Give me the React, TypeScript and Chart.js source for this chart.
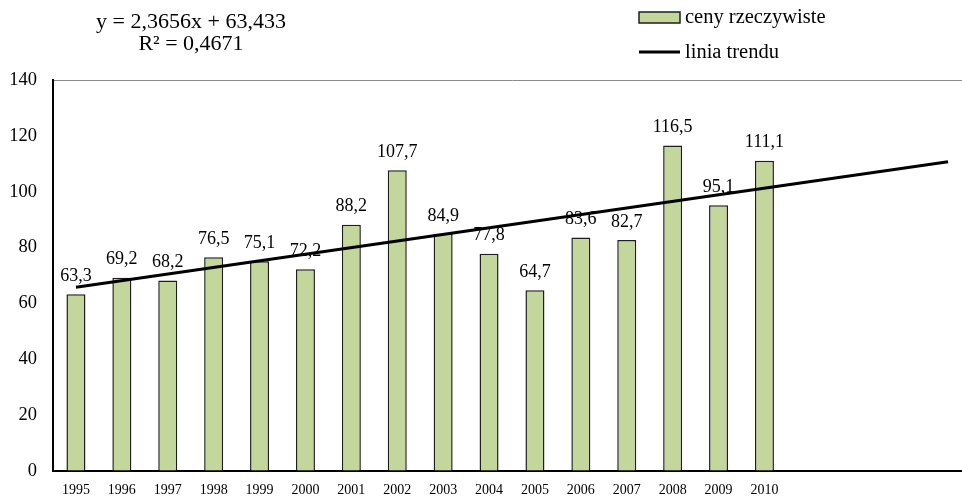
import React, { useEffect, useRef } from "react";
import { Chart, registerables } from "chart.js";

Chart.register(...registerables);

const years = ["1995", "1996", "1997", "1998", "1999", "2000", "2001", "2002", "2003", "2004", "2005", "2006", "2007", "2008", "2009", "2010"];
const forecastSlots = ["", "", "", ""];
const prices = [63.3, 69.2, 68.2, 76.5, 75.1, 72.2, 88.2, 107.7, 84.9, 77.8, 64.7, 83.6, 82.7, 116.5, 95.1, 111.1];
// trend line endpoints (first year, 20th period)
const trendStart = 65.8;
const trendEnd = 110.7;
const yTicks = [0, 20, 40, 60, 80, 100, 120, 140];
const equationLines = ["y = 2,3656x + 63,433", "R² = 0,4671"];
const seriesNames = ["ceny rzeczywiste", "linia trendu"];

const FONT = "'Liberation Serif', 'Times New Roman', serif";
const BAR_FILL = "#c3d69b";
const BAR_BORDER = "#1e1e1e";

export default function App() {
  const ref = useRef<HTMLCanvasElement | null>(null);

  useEffect(() => {
    if (!ref.current) return;
    const labels = [...years, ...forecastSlots];
    const trendData: (number | null)[] = labels.map(() => null);
    trendData[0] = trendStart;
    trendData[labels.length - 1] = trendEnd;

    const overlay = {
      id: "overlay",
      afterDatasetsDraw(chart: any) {
        const ctx = chart.ctx;
        ctx.save();
        // data labels
        const meta = chart.getDatasetMeta(0);
        ctx.font = `18px ${FONT}`;
        ctx.fillStyle = "#000";
        ctx.textAlign = "center";
        ctx.textBaseline = "middle";
        meta.data.forEach((el: any, i: number) => {
          const v = prices[i];
          if (v == null) return;
          ctx.fillText(String(v).replace(".", ","), el.x, el.y - 18);
        });
        // equation
        ctx.font = `22px ${FONT}`;
        ctx.fillText(equationLines[0], 191, 22);
        ctx.fillText(equationLines[1], 191, 44);
        // legend
        ctx.fillStyle = BAR_FILL;
        ctx.fillRect(639, 12, 41, 11);
        ctx.lineWidth = 1.5;
        ctx.strokeStyle = BAR_BORDER;
        ctx.strokeRect(639, 12, 41, 11);
        ctx.beginPath();
        ctx.lineWidth = 3;
        ctx.strokeStyle = "#000";
        ctx.moveTo(639, 52);
        ctx.lineTo(680, 52);
        ctx.stroke();
        ctx.fillStyle = "#000";
        ctx.font = `20.5px ${FONT}`;
        ctx.textAlign = "left";
        ctx.fillText(seriesNames[0], 685, 18);
        ctx.fillText(seriesNames[1], 685, 53);
        ctx.restore();
      },
    };

    const chart = new Chart(ref.current, {
      type: "bar",
      data: {
        labels,
        datasets: [
          {
            type: "bar",
            label: seriesNames[0],
            data: prices,
            backgroundColor: BAR_FILL,
            borderColor: BAR_BORDER,
            borderWidth: 1.5,
            barPercentage: 0.414,
            categoryPercentage: 1,
            order: 1,
          },
          {
            type: "line",
            label: seriesNames[1],
            data: trendData,
            borderColor: "#000",
            borderWidth: 3,
            pointRadius: 0,
            spanGaps: true,
            fill: false,
            order: 0,
          } as any,
        ],
      },
      options: {
        responsive: false,
        animation: false,
        layout: { padding: { top: 80, left: 0, right: 0, bottom: 0 } },
        plugins: {
          legend: { display: false },
          tooltip: { enabled: false },
          title: { display: false },
        },
        scales: {
          x: {
            grid: { display: false, drawTicks: false },
            border: { display: true, color: "#000", width: 2 },
            ticks: {
              font: { family: FONT, size: 14 },
              color: "#000",
              autoSkip: false,
              maxRotation: 0,
              padding: 11,
            },
            afterFit(scale: any) {
              scale.height = 24;
            },
          },
          y: {
            min: 0,
            max: 140,
            afterBuildTicks(scale: any) {
              scale.ticks = yTicks.map((v) => ({ value: v }));
            },
            grid: {
              drawTicks: false,
              color: (c: any) => (c.tick && c.tick.value === 140 ? "#8a8a8a" : "rgba(0,0,0,0)"),
              lineWidth: 1,
            },
            border: { display: true, color: "#000", width: 2 },
            ticks: {
              font: { family: FONT, size: 18.5 },
              color: "#000",
              padding: 16,
            },
            afterFit(scale: any) {
              scale.width = 53;
            },
          },
        },
      },
      plugins: [overlay],
    });
    return () => chart.destroy();
  }, []);

  return (
    <div style={{ position: "absolute", left: 0, top: 0, width: 962, height: 498, overflow: "hidden", background: "#fff" }}>
      <canvas ref={ref} width={971} height={498} style={{ display: "block" }} />
    </div>
  );
}
